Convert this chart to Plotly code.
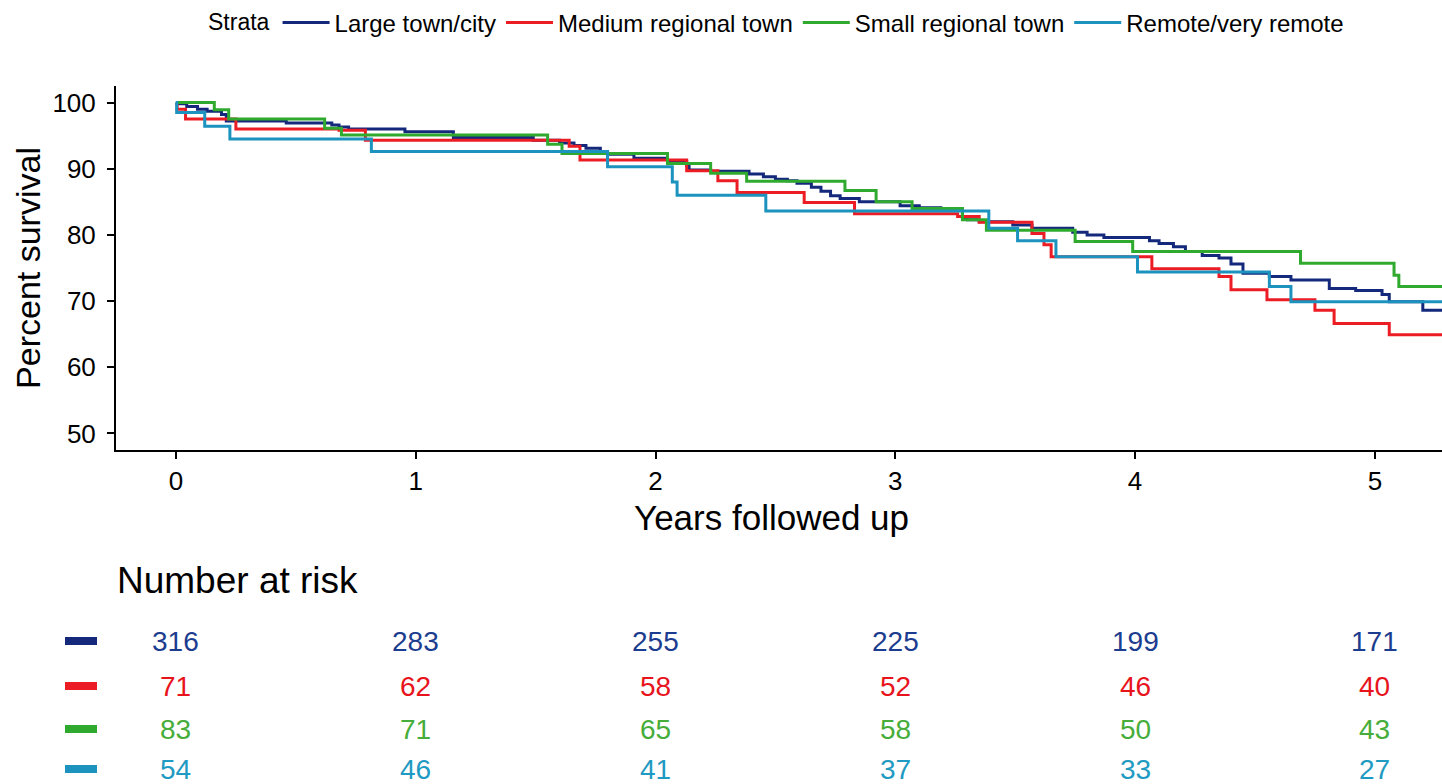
import plotly.graph_objects as go

# ---------------- data ----------------
strata = ["Large town/city", "Medium regional town", "Small regional town", "Remote/very remote"]
line_colors = ["#14297C", "#EC1C24", "#2FAA2F", "#1C93BE"]
text_colors = ["#1C3D8F", "#E8141C", "#47AD3A", "#1F9AC2"]

large_t = [0, 0.005, 0.045, 0.09, 0.13, 0.19, 0.21, 0.46, 0.65, 0.68, 0.72, 0.955, 1.157, 1.49,
           1.60, 1.66, 1.71, 1.77, 1.80, 1.91, 2.05, 2.13, 2.14, 2.23, 2.39, 2.45, 2.50, 2.55,
           2.59, 2.65, 2.69, 2.73, 2.77, 2.85, 3.02, 3.10, 3.19, 3.28, 3.30, 3.35, 3.49, 3.57,
           3.74, 3.80, 3.87, 4.06, 4.10, 4.16, 4.21, 4.28, 4.35, 4.40, 4.45, 4.56, 4.65, 4.81,
           4.92, 5.03, 5.06, 5.20, 5.30]
large_s = [100, 99.8, 99.4, 99.0, 98.7, 98.2, 97.2, 96.9, 96.6, 96.3, 96.0, 95.6, 94.7, 94.3,
           93.9, 93.5, 93.1, 92.6, 92.2, 91.6, 91.1, 90.5, 89.8, 89.6, 89.2, 88.8, 88.4, 88.2,
           87.8, 87.2, 86.6, 85.9, 85.5, 85.0, 84.4, 84.1, 83.9, 82.6, 82.3, 82.0, 81.5, 81.0,
           80.4, 80.0, 79.6, 79.1, 78.7, 78.2, 77.5, 76.9, 76.5, 75.6, 74.2, 73.7, 73.2, 71.9,
           71.6, 71.0, 69.9, 68.6, 68.6]

medium_t = [0, 0.005, 0.04, 0.25, 0.68, 0.79, 1.64, 1.685, 2.13, 2.26, 2.34, 2.62, 2.83, 3.26,
            3.35, 3.57, 3.62, 3.65, 4.07, 4.35, 4.40, 4.55, 4.75, 4.83, 5.06, 5.30]
medium_s = [100, 99.0, 97.5, 96.0, 95.8, 94.3, 93.4, 91.3, 89.7, 88.2, 86.4, 84.9, 83.2, 82.8,
            81.9, 80.2, 78.5, 76.7, 74.9, 73.7, 71.7, 70.2, 68.6, 66.6, 64.9, 64.9]

small_t = [0, 0.16, 0.22, 0.62, 0.69, 1.55, 1.61, 2.05, 2.23, 2.38, 2.79, 2.92, 3.07, 3.28,
           3.38, 3.75, 3.99, 4.69, 5.08, 5.10, 5.30]
small_s = [100, 98.9, 97.5, 96.1, 95.1, 93.7, 92.3, 90.8, 89.3, 88.1, 86.7, 85.0, 84.0, 82.3,
           80.7, 79.0, 77.5, 75.7, 73.9, 72.2, 72.2]

remote_t = [0, 0.003, 0.12, 0.225, 0.815, 1.80, 2.07, 2.09, 2.46, 3.39, 3.51, 3.67, 4.01,
            4.56, 4.65, 5.30]
remote_s = [100, 98.5, 96.4, 94.5, 92.6, 90.3, 88.0, 86.0, 83.6, 81.0, 79.1, 76.7, 74.4,
            72.2, 69.9, 69.9]

risk_times = [0, 1, 2, 3, 4, 5]
risk_large = [316, 283, 255, 225, 199, 171]
risk_medium = [71, 62, 58, 52, 46, 40]
risk_small = [83, 71, 65, 58, 50, 43]
risk_remote = [54, 46, 41, 37, 33, 27]

y_ticks = [50, 60, 70, 80, 90, 100]
x_ticks = [0, 1, 2, 3, 4, 5]

# ---------------- figure ----------------
FONT = "Liberation Sans, Arial, sans-serif"
W, H = 1442, 784
ML, MR, MT, MB = 116, 0, 86, 334
PH = H - MT - MB
PW = W - ML - MR

def py(pix):  # pixel row -> paper y
    return (H - MB - pix) / PH

def px(pix):  # pixel col -> paper x
    return (pix - ML) / PW

series = [(large_t, large_s), (medium_t, medium_s), (small_t, small_s), (remote_t, remote_s)]
fig = go.Figure()
for name, col, (t, s) in zip(strata, line_colors, series):
    fig.add_trace(go.Scatter(x=t, y=s, mode="lines", name=name,
                             line=dict(color=col, width=3, shape="hv"),
                             cliponaxis=True))

annotations = []
annotations.append(dict(text="Number at risk", x=px(115), y=py(580), xref="paper", yref="paper",
                        xanchor="left", yanchor="middle", showarrow=False,
                        font=dict(family=FONT, size=37, color="black")))
annotations.append(dict(text="Years followed up", x=px(771), y=py(517), xref="paper", yref="paper",
                        xanchor="center", yanchor="middle", showarrow=False,
                        font=dict(family=FONT, size=35, color="black")))
row_pix = [641, 686, 729, 769]
shapes = []
for vals, col, lcol, rp in zip([risk_large, risk_medium, risk_small, risk_remote],
                               text_colors, line_colors, row_pix):
    for tt, v in zip(risk_times, vals):
        annotations.append(dict(text=str(v), x=tt, y=py(rp), xref="x", yref="paper",
                                xanchor="center", yanchor="middle", showarrow=False,
                                font=dict(family=FONT, size=28, color=col)))
    shapes.append(dict(type="rect", xref="paper", yref="paper",
                       x0=px(65), x1=px(97), y0=py(rp + 4), y1=py(rp - 4),
                       fillcolor=lcol, line=dict(width=0)))

fig.update_layout(
    width=W, height=H,
    margin=dict(l=ML, r=MR, t=MT, b=MB, autoexpand=False),
    paper_bgcolor="white", plot_bgcolor="white",
    font=dict(family=FONT, color="black"),
    showlegend=True,
    legend=dict(orientation="h", xref="container", yref="container",
                x=206 / W, xanchor="left", y=1 - 23 / H, yanchor="middle",
                title=dict(text="Strata", side="left", font=dict(family=FONT, size=23)),
                font=dict(family=FONT, size=24), itemwidth=47, bgcolor="rgba(0,0,0,0)"),
    annotations=annotations,
    shapes=shapes,
    xaxis=dict(range=[-0.25, 5.28], tickvals=x_ticks, ticktext=[str(v) for v in x_ticks],
               showline=True, linecolor="black", linewidth=2, ticks="outside", ticklen=7,
               tickwidth=1.5, tickcolor="black", showgrid=False, zeroline=False,
               automargin=False,
               tickfont=dict(family=FONT, size=26, color="black")),
    yaxis=dict(range=[47.5, 102.5], tickvals=y_ticks, ticktext=[str(v) for v in y_ticks],
               showline=True, linecolor="black", linewidth=2, ticks="outside", ticklen=7,
               tickwidth=1.5, tickcolor="black", showgrid=False, zeroline=False,
               automargin=False, ticklabelstandoff=6,
               tickfont=dict(family=FONT, size=26, color="black"),
               title=dict(text="Percent survival", font=dict(family=FONT, size=34, color="black"),
                          standoff=2)),
)

fig.write_html("out.html", config={"displayModeBar": False},
               post_script="document.body.style.margin='0';")
